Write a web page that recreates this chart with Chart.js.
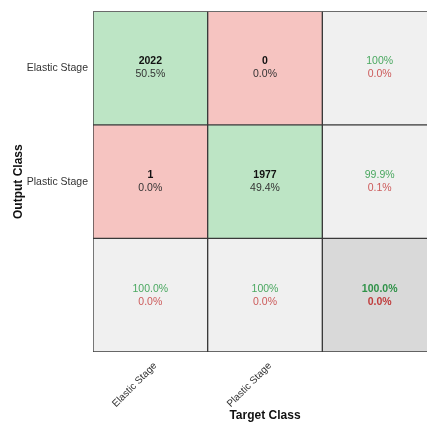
<!DOCTYPE html>
<html>
<head>
<meta charset="utf-8">
<script src="https://cdn.jsdelivr.net/npm/chart.js"></script>
<style>
    html, body { margin: 0; padding: 0; background: #fff; overflow: hidden; }
</style>
</head>
<body>
<canvas id="confChart" width="437" height="427"></canvas>
<script>
// confusion matrix data
const classes = ['Elastic Stage', 'Plastic Stage'];
const xLabels = ['Elastic Stage', 'Plastic Stage', ''];
const elasticCounts = [2022, 0];
const plasticCounts = [1, 1977];
const elasticPct = ['50.5%', '0.0%'];
const plasticPct = ['0.0%', '49.4%'];
// right column: precision per output class (correct / wrong)
const rowGood = ['100%', '99.9%'];
const rowBad = ['0.0%', '0.1%'];
// bottom row: recall per target class (correct / wrong)
const colGood = ['100.0%', '100%'];
const colBad = ['0.0%', '0.0%'];
const totalGood = '100.0%';
const totalBad = '0.0%';

const GREEN = '#bde5c5', RED = '#f6c4c1', GREY = '#f0f0f0', DARK = '#d9d9d9';
const FONT = "'Liberation Sans', Arial, sans-serif";

const rows = [
    { counts: elasticCounts, pct: elasticPct, colors: [GREEN, RED, GREY] },
    { counts: plasticCounts, pct: plasticPct, colors: [RED, GREEN, GREY] },
    { counts: null, pct: null, colors: [GREY, GREY, DARK] }
];

const cellText = {
    id: 'cellText',
    afterDatasetsDraw(chart) {
        const ctx = chart.ctx;
        ctx.save();
        ctx.textAlign = 'center';
        ctx.textBaseline = 'middle';
        rows.forEach((row, r) => {
            chart.getDatasetMeta(r).data.forEach((bar, c) => {
                const cx = bar.x;
                const cy = (bar.y + bar.base) / 2;
                let l1, l2, c1, c2, bold1, bold2;
                if (r < 2 && c < 2) {
                    l1 = String(row.counts[c]); l2 = row.pct[c];
                    c1 = '#111'; c2 = '#333'; bold1 = true; bold2 = false;
                } else if (r < 2) {
                    l1 = rowGood[r]; l2 = rowBad[r];
                    c1 = '#4aa860'; c2 = '#cc5a5a'; bold1 = bold2 = false;
                } else if (c < 2) {
                    l1 = colGood[c]; l2 = colBad[c];
                    c1 = '#4aa860'; c2 = '#cc5a5a'; bold1 = bold2 = false;
                } else {
                    l1 = totalGood; l2 = totalBad;
                    c1 = '#2f9248'; c2 = '#c03c3c'; bold1 = bold2 = true;
                }
                ctx.font = (bold1 ? 'bold ' : '') + '10.5px ' + FONT;
                ctx.fillStyle = c1;
                ctx.fillText(l1, cx, cy - 6.5);
                ctx.font = (bold2 ? 'bold ' : '') + '10.5px ' + FONT;
                ctx.fillStyle = c2;
                ctx.fillText(l2, cx, cy + 6.5);
            });
        });
        ctx.restore();
    }
};

new Chart(document.getElementById('confChart'), {
    type: 'bar',
    data: {
        labels: xLabels,
        datasets: rows.map(row => ({
            data: xLabels.map(() => 1),
            backgroundColor: row.colors,
            borderColor: '#3a3a3a',
            borderWidth: 1,
            borderSkipped: false,
            categoryPercentage: 1,
            barPercentage: 1
        }))
    },
    options: {
        responsive: false,
        animation: false,
        layout: { padding: { top: 9, left: 0, right: 0, bottom: 0 } },
        plugins: { legend: { display: false }, tooltip: { enabled: false } },
        scales: {
            x: {
                stacked: true,
                grid: { display: false, drawTicks: false },
                border: { display: false },
                ticks: {
                    color: '#333',
                    font: { size: 10, family: FONT },
                    minRotation: 45,
                    maxRotation: 45,
                    padding: 8,
                    labelOffset: 5
                },
                title: {
                    display: true,
                    text: 'Target Class',
                    color: '#111',
                    font: { size: 12, weight: 'bold', family: FONT },
                    padding: { top: 0, bottom: 4 }
                },
                afterFit: s => { s.height = 75; }
            },
            y: {
                stacked: true,
                reverse: true,
                min: 0,
                max: 3,
                grid: { display: false, drawTicks: false },
                border: { display: false },
                afterBuildTicks: s => { s.ticks = classes.map((_, i) => ({ value: i + 0.5 })); },
                ticks: {
                    color: '#333',
                    font: { size: 10.5, family: FONT },
                    padding: 5,
                    callback: (v, i) => classes[i]
                },
                title: {
                    display: true,
                    text: 'Output Class',
                    color: '#111',
                    font: { size: 12, weight: 'bold', family: FONT },
                    padding: { top: 11, bottom: 0 }
                },
                afterFit: s => { s.width = 93; }
            }
        }
    },
    plugins: [cellText]
});
</script>
</body>
</html>
